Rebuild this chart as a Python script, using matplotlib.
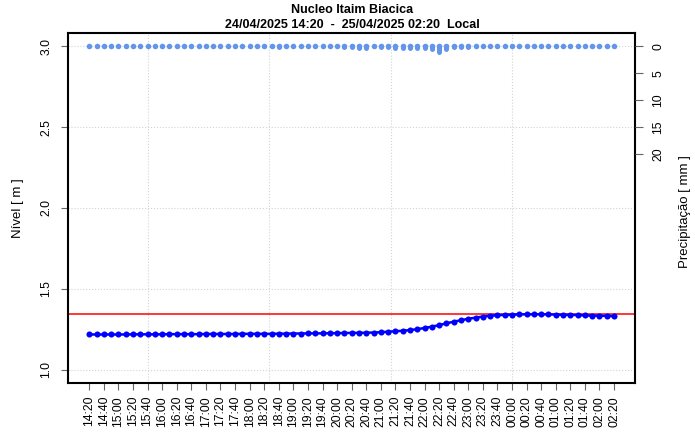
import matplotlib
matplotlib.use('Agg')
import matplotlib.pyplot as plt
import pandas as pd

plt.rcParams['font.family'] = ['Liberation Sans', 'DejaVu Sans']

# 10-minute readings, 24/04 14:20 -> 25/04 02:20
times = pd.date_range('2025-04-24 14:20', '2025-04-25 02:20', freq='10min')

nivel = [
    1.218, 1.218, 1.218, 1.218, 1.218, 1.218, 1.219, 1.219, 1.219, 1.219,
    1.219, 1.220, 1.220, 1.220, 1.220, 1.220, 1.221, 1.221, 1.221, 1.221,
    1.221, 1.222, 1.222, 1.222, 1.222, 1.222, 1.223, 1.223, 1.224, 1.224,
    1.225, 1.225, 1.225, 1.226, 1.226, 1.227, 1.228, 1.228, 1.229, 1.230,
    1.232, 1.235, 1.238, 1.241, 1.245, 1.251, 1.258, 1.266, 1.276, 1.287,
    1.297, 1.306, 1.315, 1.322, 1.329, 1.334, 1.337, 1.339, 1.341, 1.342,
    1.343, 1.343, 1.343, 1.342, 1.341, 1.340, 1.339, 1.338, 1.336, 1.335,
    1.334, 1.333, 1.331,
]

chuva = [
    0.0, 0.0, 0.0, 0.0, 0.0, 0.0, 0.0, 0.0, 0.0, 0.0,
    0.0, 0.0, 0.0, 0.0, 0.0, 0.0, 0.0, 0.0, 0.0, 0.0,
    0.0, 0.0, 0.0, 0.0, 0.0, 0.0, 0.2, 0.0, 0.0, 0.0,
    0.0, 0.0, 0.0, 0.0, 0.0, 0.2, 0.2, 0.4, 0.4, 0.0,
    0.2, 0.2, 0.4, 0.4, 0.4, 0.4, 0.4, 0.6, 1.0, 0.6,
    0.2, 0.2, 0.2, 0.0, 0.0, 0.0, 0.0, 0.0, 0.0, 0.0,
    0.0, 0.0, 0.0, 0.0, 0.0, 0.0, 0.0, 0.0, 0.0, 0.0,
    0.0, 0.0, 0.0,
]

tick_labels = [
    '14:20', '14:40', '15:00', '15:20', '15:40', '16:00', '16:20', '16:40',
    '17:00', '17:20', '17:40', '18:00', '18:20', '18:40', '19:00', '19:20',
    '19:40', '20:00', '20:20', '20:40', '21:00', '21:20', '21:40', '22:00',
    '22:20', '22:40', '23:00', '23:20', '23:40', '00:00', '00:20', '00:40',
    '01:00', '01:20', '01:40', '02:00', '02:20',
]

limiar = 1.342
nivel_ticks = [1.0, 1.5, 2.0, 2.5, 3.0]
chuva_ticks = [0, 5, 10, 15, 20]

# vertical grid sits on 10000 s epoch multiples (R pretty ticks)
grid_x = pd.date_range('2025-04-24 15:40', periods=4, freq='10000s')

fig = plt.figure(figsize=(6.95, 4.37), dpi=100)
ax = fig.add_axes([0.0983, 0.1243, 0.8154, 0.7995])

span = times[-1] - times[0]
ax.set_xlim(times[0] - 0.04 * span, times[-1] + 0.04 * span)
ax.set_ylim(0.92, 3.08)

for y in nivel_ticks:
    ax.axhline(y, color='#d3d3d3', ls=':', lw=0.8, zorder=0)
for x in grid_x:
    ax.axvline(x, color='#d3d3d3', ls=':', lw=0.8, zorder=0)

ax.axhline(limiar, color='red', lw=1.1, zorder=2)
ax.plot(times, nivel, '-o', color='blue', ms=4.4, lw=1.8, mew=0, zorder=3)

ax.set_yticks(nivel_ticks)
ax.set_yticklabels(['%.1f' % v for v in nivel_ticks])
ax.set_xticks(times[::2])
ax.set_xticklabels(tick_labels, rotation=90)
ax.tick_params(axis='both', direction='out', length=5, width=0.8,
               color='#666666', labelsize=8.8)
ax.tick_params(axis='y', pad=6.5, labelrotation=90)
ax.tick_params(axis='x', pad=4.5)
for lbl in ax.get_yticklabels():
    lbl.set_va('center')

for sp in ax.spines.values():
    sp.set_linewidth(1.5)

# precipitation on a reversed right axis, 0 at the top
ax2 = ax.twinx()
ax2.set_ylim(62.4, -2.4)
wet = [i for i, v in enumerate(chuva) if v > 0]
bars = ax2.vlines([times[i] for i in wet], 0, [chuva[i] for i in wet],
                  color='#6495ED', lw=3.6)
bars.set_capstyle('round')
ax2.plot(times, [0] * len(times), 'o', color='#6495ED', ms=4.0, mew=0)
ax2.set_yticks(chuva_ticks)
ax2.set_yticklabels([str(v) for v in chuva_ticks])
ax2.tick_params(axis='y', direction='out', length=5.5, width=0.8,
                color='#666666', labelsize=8.8, pad=7, labelrotation=90)
for lbl in ax2.get_yticklabels():
    lbl.set_va('center')
for sp in ax2.spines.values():
    sp.set_visible(False)

fig.text(352 / 695, 1 - 10 / 437, 'Nucleo Itaim Biacica', ha='center',
         va='center', fontsize=9, fontweight='bold')
fig.text(352 / 695, 1 - 24.5 / 437,
         '24/04/2025 14:20  -  25/04/2025 02:20  Local', ha='center',
         va='center', fontsize=9, fontweight='bold')
fig.text(18.3 / 695, 1 - 208 / 437, 'Nível [ m ]', rotation=90,
         ha='center', va='center', fontsize=9.5)
fig.text(685 / 695, 1 - 211.7 / 437, 'Precipitação [ mm ]', rotation=90,
         ha='center', va='center', fontsize=9.5)

fig.savefig('out.png', dpi=100)
